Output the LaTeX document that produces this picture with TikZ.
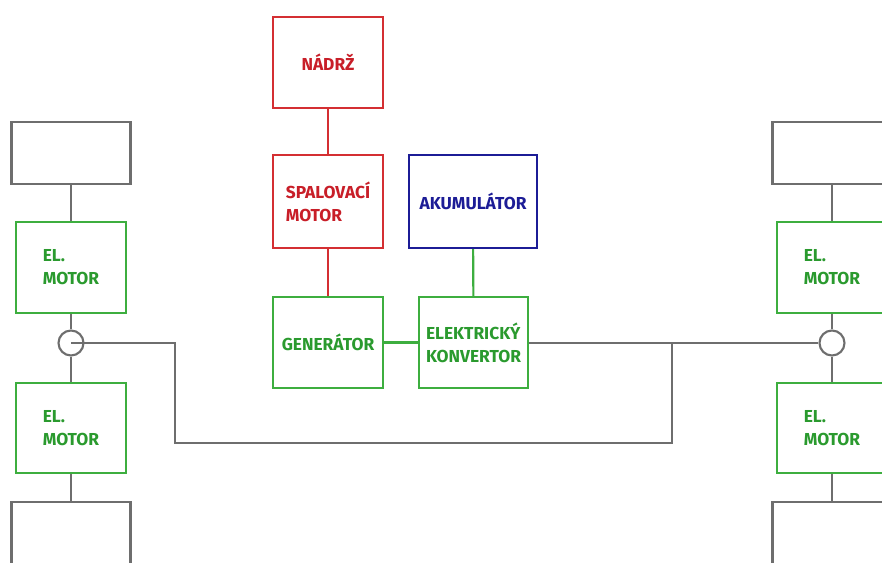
\documentclass[tikz,border=0pt]{standalone}
\usepackage{fontspec}
\setmainfont{Fira Sans}
\usepackage{xcolor}
\usetikzlibrary{positioning,calc}
\definecolor{fuelred}{HTML}{D42F32}
\definecolor{fueltext}{HTML}{C81E28}
\definecolor{elgreen}{HTML}{3DAE3F}
\definecolor{eltext}{HTML}{2A9A2E}
\definecolor{accblue}{HTML}{1C1C96}
\definecolor{wiregray}{HTML}{6E6E6E}
\tikzset{
  part/.style={draw, line width=1.8pt, fill=white, align=left, inner sep=0pt, font=\bfseries\fontsize{14.8}{19.5}\selectfont},
  redbox/.style={part, draw=fuelred, text=fueltext, minimum width=3.3cm, minimum height=2.75cm},
  greenbox/.style={part, draw=elgreen, text=eltext, minimum width=3.3cm, minimum height=2.73cm},
  bluebox/.style={part, draw=accblue, text=accblue, minimum width=3.84cm, minimum height=2.79cm},
  wheelbox/.style={draw=wiregray, line width=1.8pt, fill=white, minimum width=3.57cm, minimum height=1.86cm},
  joint/.style={circle, draw=wiregray, line width=1.8pt, minimum size=0.75cm, inner sep=0pt},
  redwire/.style={draw=fuelred, line width=1.8pt},
  greenwire/.style={draw=elgreen, line width=1.8pt},
  graywire/.style={draw=wiregray, line width=1.8pt}
}
\begin{document}
\begin{tikzpicture}[x=0.03cm, y=-0.03cm]
\useasboundingbox (0,0) rectangle (882,563);
\clip (0,0) rectangle (882,563);
% combustion branch
\node[redbox] (tank) at (328,62.5) {NÁDRŽ};
\node[redbox, minimum height=2.79cm] (engine) at (328,201.5) {SPALOVACÍ\\MOTOR};
\node[bluebox] (battery) at (473,201.5) {AKUMULÁTOR};
\node[greenbox] (gen) at (328,342.5) {GENERÁTOR};
\node[greenbox, minimum width=3.27cm] (conv) at (473.5,342.5) {ELEKTRICKÝ\\KONVERTOR};
\draw[redwire] (tank) -- (engine);
\draw[redwire] (engine) -- (gen);
\draw[greenwire] (battery) -- (conv);
\draw[greenwire] (gen) -- (conv);
% left axle
\node[wheelbox] (wheelLT) at (71,153) {};
\node[greenbox] (motLT) at (71,267.5) {EL.\\MOTOR};
\node[joint] (jointL) at (71,343) {};
\node[greenbox, minimum height=2.7cm] (motLB) at (71,428) {EL.\\MOTOR};
\node[wheelbox, minimum height=2cm] (wheelLB) at (71,535) {};
% right axle
\node[wheelbox] (wheelRT) at (832,153) {};
\node[greenbox] (motRT) at (832,267.5) {EL.\\MOTOR};
\node[joint] (jointR) at (832,343) {};
\node[greenbox, minimum height=2.7cm] (motRB) at (832,428) {EL.\\MOTOR};
\node[wheelbox, minimum height=2cm] (wheelRB) at (832,535) {};
\foreach \s in {L,R}{
  \draw[graywire] (wheel\s T) -- (mot\s T);
  \draw[graywire] (mot\s T) -- (joint\s);
  \draw[graywire] (joint\s) -- (mot\s B);
  \draw[graywire] (mot\s B) -- (wheel\s B);
}
% power bus
\coordinate (busL) at (175,443);
\coordinate (busR) at (672,443);
\draw[graywire] (conv.east |- jointR) -- (jointR.west);
\draw[graywire] (jointL.center) -| (busL) -- (busR) -- (busR |- jointR);
\end{tikzpicture}
\end{document}
